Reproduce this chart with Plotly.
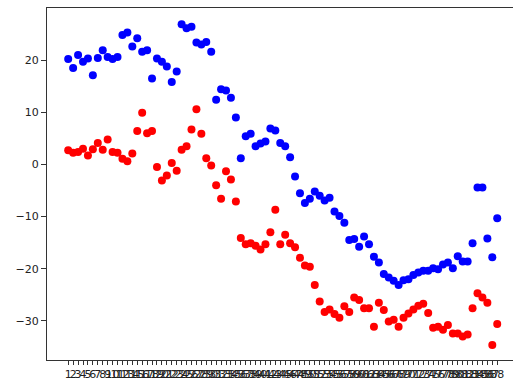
import plotly.graph_objects as go

categories = [str(i) for i in range(1, 89)]

blue_values = [
    20.2, 18.5, 21.0, 19.7, 20.3, 17.1, 20.4, 21.9, 20.6, 20.2,
    20.6, 24.8, 25.3, 22.6, 24.2, 21.6, 21.9, 16.5, 20.3, 19.7,
    18.8, 15.8, 17.8, 26.9, 26.1, 26.4, 23.4, 23.0, 23.5, 21.6,
    12.4, 14.4, 14.2, 12.8, 9.0, 1.2, 5.4, 5.9, 3.5, 4.0,
    4.4, 6.9, 6.5, 4.1, 3.5, 1.4, -2.3, -5.5, -7.4, -6.6,
    -5.2, -6.0, -6.9, -6.4, -9.0, -9.9, -11.2, -14.5, -14.3, -15.8,
    -13.8, -15.3, -17.7, -18.8, -21.0, -21.7, -22.3, -23.1, -22.2, -22.0,
    -21.2, -20.7, -20.4, -20.4, -19.9, -20.1, -19.2, -18.8, -19.9, -17.6,
    -18.6, -18.6, -15.1, -4.4, -4.4, -14.2, -17.8, -10.3,
]

red_values = [
    2.7, 2.25, 2.4, 3.0, 1.7, 2.9, 4.1, 2.8, 4.8, 2.4,
    2.25, 1.1, 0.6, 2.1, 6.4, 9.9, 6.0, 6.4, -0.5, -3.1,
    -2.1, 0.3, -1.2, 2.8, 3.5, 6.7, 10.6, 5.9, 1.2, -0.2,
    -4.0, -6.6, -1.3, -2.9, -7.1, -14.1, -15.3, -15.1, -15.6, -16.3,
    -15.3, -13.0, -8.7, -15.3, -13.5, -15.1, -15.9, -17.9, -19.4, -19.6,
    -23.1, -26.3, -28.3, -27.8, -28.7, -29.4, -27.2, -28.3, -25.5, -26.0,
    -27.6, -27.6, -31.1, -26.5, -27.9, -30.1, -29.8, -31.1, -29.4, -28.6,
    -27.8, -27.1, -26.7, -28.5, -31.3, -31.1, -31.7, -30.8, -32.4, -32.4,
    -33.0, -32.6, -27.6, -24.7, -25.5, -26.5, -34.6, -30.6,
]

y_ticks = [-30, -20, -10, 0, 10, 20]

fig = go.Figure()
fig.add_trace(go.Scatter(
    x=categories, y=blue_values, mode="markers",
    marker=dict(color="#0000ff", size=8, line=dict(width=0)),
    showlegend=False,
))
fig.add_trace(go.Scatter(
    x=categories, y=red_values, mode="markers",
    marker=dict(color="#ff0000", size=8, line=dict(width=0)),
    showlegend=False,
))

axis_font = dict(family="DejaVu Sans", size=11, color="#222222")

fig.update_layout(
    width=513, height=381,
    margin=dict(l=47, r=0, t=8, b=21),
    paper_bgcolor="white", plot_bgcolor="white",
    xaxis=dict(
        type="category",
        range=[-4.3, 90.2],
        tickmode="array", tickvals=categories, ticktext=categories,
        tickangle=0,
        showgrid=False, zeroline=False,
        showline=True, linecolor="#333333", linewidth=1, mirror=True,
        ticks="outside", ticklen=4, tickcolor="#333333", tickwidth=1,
        tickfont=axis_font,
    ),
    yaxis=dict(
        range=[-37.5, 30],
        tickmode="array", tickvals=y_ticks,
        showgrid=False, zeroline=False,
        showline=True, linecolor="#333333", linewidth=1, mirror=False,
        ticks="outside", ticklen=5, tickcolor="#333333", tickwidth=1,
        tickfont=axis_font,
    ),
)

fig.write_html(
    "out.html",
    config={"displayModeBar": False},
    post_script="document.body.style.margin='0';document.body.style.overflow='hidden';",
)
